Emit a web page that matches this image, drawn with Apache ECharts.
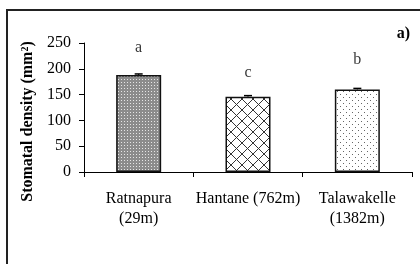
<!DOCTYPE html>
<html><head><meta charset="utf-8">
<script src="https://cdn.jsdelivr.net/npm/echarts@6/dist/echarts.min.js"></script>
<style>html,body{margin:0;padding:0;background:#fff}#c{width:420px;height:264px}</style>
</head><body><div id="c"></div>
<script>
const categories = ['Ratnapura\n(29m)', 'Hantane (762m)', 'Talawakelle\n(1382m)'];
const densityValues = [188, 146, 160];
const errorValues = [2, 2, 2];
const letters = ['a', 'c', 'b'];
const letterPositions = [241, 192, 217];
const yTicks = {min: 0, max: 250, interval: 50};

const FONT = "'Liberation Serif','Times New Roman',serif";

function makePattern(size, draw) {
  const c = document.createElement('canvas');
  c.width = size; c.height = size;
  const ctx = c.getContext('2d');
  draw(ctx, size);
  return {image: c, repeat: 'repeat'};
}
const patDense = makePattern(3, (ctx, s) => {
  ctx.fillStyle = '#8c8c8c'; ctx.fillRect(0, 0, s, s);
  ctx.fillStyle = '#e6e6e6'; ctx.fillRect(1, 1, 1, 1);
});
const patCross = makePattern(11, (ctx, s) => {
  ctx.fillStyle = '#fff'; ctx.fillRect(0, 0, s, s);
  ctx.strokeStyle = '#333'; ctx.lineWidth = 1;
  ctx.beginPath();
  ctx.moveTo(0, 0); ctx.lineTo(s, s);
  ctx.moveTo(s, 0); ctx.lineTo(0, s);
  ctx.stroke();
});
const patDots = makePattern(6, (ctx, s) => {
  ctx.fillStyle = '#fff'; ctx.fillRect(0, 0, s, s);
  ctx.fillStyle = '#666';
  ctx.fillRect(1, 1, 1, 1); ctx.fillRect(4, 4, 1, 1);
});
const patterns = [patDense, patCross, patDots];

const chart = echarts.init(document.getElementById('c'), null, {renderer: 'canvas'});
chart.setOption({
  animation: false,
  backgroundColor: '#fff',
  grid: {left: 84, right: 8, top: 43, bottom: 92, containLabel: false},
  xAxis: {
    type: 'category', data: categories, boundaryGap: true,
    axisLine: {lineStyle: {color: '#000', width: 1}},
    axisTick: {show: true, length: 5, inside: false, lineStyle: {color: '#000'}},
    axisLabel: {color: '#000', fontFamily: FONT, fontSize: 16, margin: 17, lineHeight: 20, interval: 0}
  },
  yAxis: {
    type: 'value', min: yTicks.min, max: yTicks.max, interval: yTicks.interval,
    name: 'Stomatal density (mm{sup|2})', nameLocation: 'middle', nameGap: 46, nameRotate: 90,
    nameTextStyle: {color: '#000', fontFamily: FONT, fontSize: 16, fontWeight: 'bold', padding: [0, 28, 0, 0],
      rich: {sup: {fontSize: 10, fontWeight: 'bold', fontFamily: FONT, verticalAlign: 'top', padding: [0,0,6,0]}}},
    axisLine: {show: true, lineStyle: {color: '#000', width: 1}},
    axisTick: {show: true, length: 5, lineStyle: {color: '#000'}},
    splitLine: {show: false},
    axisLabel: {color: '#000', fontFamily: FONT, fontSize: 16, margin: 13}
  },
  series: [
    {
      type: 'bar', barWidth: 45,
      data: densityValues.map((v, i) => ({value: v, itemStyle: {color: patterns[i]}})),
      itemStyle: {borderColor: '#111', borderWidth: 1.5}
    },
    {
      type: 'custom',
      renderItem: function (params, api) {
        const x = api.value(0), v = api.value(1), e = api.value(2);
        const hi = api.coord([x, v + e]), lo = api.coord([x, v]);
        const hw = 4;
        return {type: 'group', children: [
          {type: 'line', shape: {x1: hi[0], y1: hi[1], x2: lo[0], y2: lo[1]}, style: {stroke: '#000', lineWidth: 1}},
          {type: 'line', shape: {x1: hi[0] - hw, y1: hi[1], x2: hi[0] + hw, y2: hi[1]}, style: {stroke: '#000', lineWidth: 1.5}}
        ]};
      },
      data: densityValues.map((v, i) => [i, v, errorValues[i]]),
      z: 5
    },
    {
      type: 'scatter', symbolSize: 0,
      data: letterPositions.map((v, i) => [i, v]),
      label: {show: true, position: 'inside', formatter: p => letters[p.dataIndex],
        color: '#000', fontFamily: FONT, fontSize: 16}
    }
  ],
  graphic: [
    {type: 'rect', shape: {x: 7, y: 10, width: 440, height: 300}, style: {fill: 'none', stroke: '#222', lineWidth: 2}, silent: true},
    {type: 'text', right: 10, top: 26, style: {text: 'a)', fontFamily: FONT, fontSize: 16, fontWeight: 'bold', fill: '#000'}}
  ]
});
</script></body></html>
